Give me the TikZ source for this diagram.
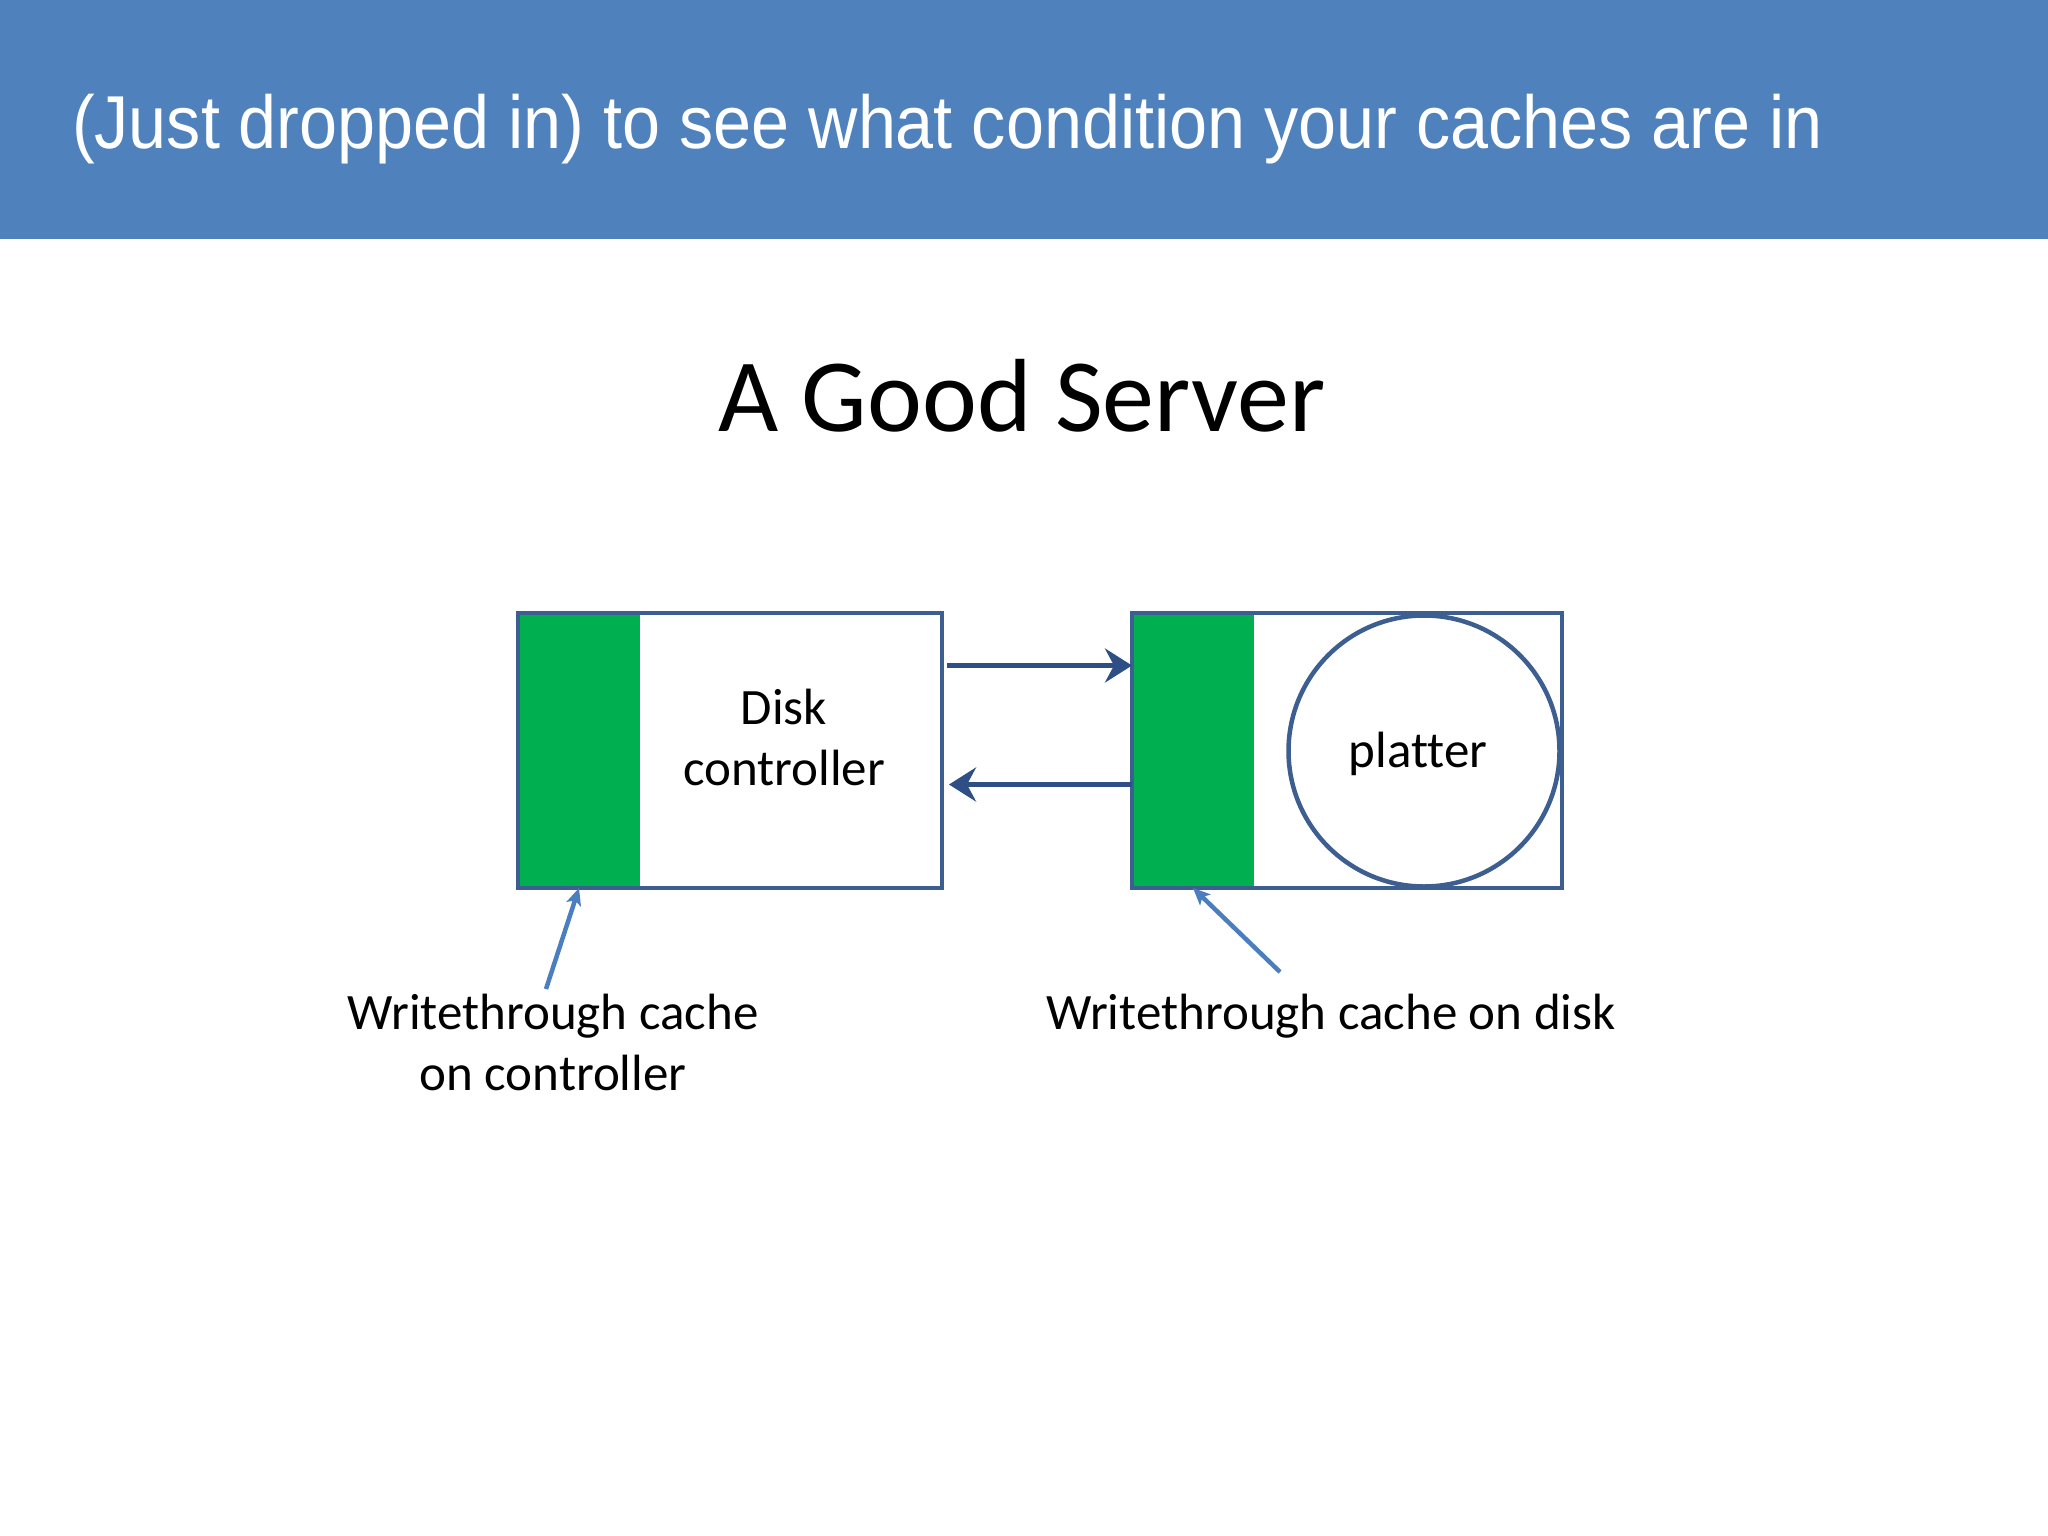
\documentclass[tikz,border=0pt]{standalone}
\usepackage{fontspec}
\usepackage{graphicx}
\usetikzlibrary{
  arrows.meta,
  calc,
  positioning
}
\newfontfamily\slidesans{Liberation Sans}
\newfontfamily\slidebody[Ligatures=NoCommon]{Carlito}
\definecolor{headerblue}{HTML}{4F81BD}
\definecolor{cachegreen}{HTML}{00B050}
\definecolor{boxedge}{HTML}{3C5E91}
\definecolor{linknavy}{HTML}{2E4E86}
\definecolor{pointblue}{HTML}{4A7EBF}

\begin{document}
\begin{tikzpicture}[
  x=1pt, y=-1pt,
  >=Stealth,
  every node/.style={inner sep=0pt, outer sep=0pt},
  devbox/.style={draw=boxedge, line width=4.5pt, minimum width=424pt, minimum height=275pt},
  cachebox/.style={fill=cachegreen, minimum width=122pt, minimum height=275pt},
  link/.style={->, linknavy, line width=4.5pt, >={Stealth[length=27pt, width=34pt, inset=9pt]}},
  pointer/.style={->, pointblue, line width=4.5pt, >={Stealth[length=17pt, width=15pt, inset=4pt]}},
  bodytext/.style={font=\slidebody\fontsize{51}{61}\selectfont, text=black, align=center},
]
\useasboundingbox (0,0) rectangle (2048,1536);
\fill[white] (0,0) rectangle (2048,1536);

% ═══════════════════════════════════════════
% HEADER BAND
% ═══════════════════════════════════════════
\fill[headerblue] (0,0) rectangle (2048,239);
\node[anchor=base west, text=white, font=\slidesans\fontsize{75}{90}\selectfont] (headline) at (72,149)
  {\scalebox{0.911}[1]{(Just dropped in) to see what condition your caches are in}};

% Slide heading
\node[anchor=base, font=\slidebody\fontsize{104}{125}\selectfont] (heading) at (1022,431) {A Good Server};

% ═══════════════════════════════════════════
% DISK CONTROLLER (left)
% ═══════════════════════════════════════════
\node[cachebox, anchor=north west] (ctrlcache) at (518,613) {};
\node[devbox, anchor=north west] (ctrl) at (518,613) {};
\node[bodytext, anchor=base] (ctrllabel) at (784,785) {Disk\\controller};

% ═══════════════════════════════════════════
% DISK (right)
% ═══════════════════════════════════════════
\node[cachebox, anchor=north west] (diskcache) at (1132,613) {};
\node[devbox, anchor=north west, minimum width=430pt] (disk) at (1132,613) {};
\node[circle, draw=boxedge, fill=white, line width=4.5pt, minimum size=271pt] (platter) at (1424,751) {};
\node[bodytext, anchor=base] (platterlabel) at (1418,767) {platter};

% Links between controller and disk
\draw[link] ([xshift=5pt, yshift=85pt]ctrl.east) -- ([yshift=85pt]disk.west);
\draw[link] ([yshift=-34pt]disk.west) -- ([xshift=7pt, yshift=-34pt]ctrl.east);

% ═══════════════════════════════════════════
% CACHE CALLOUTS
% ═══════════════════════════════════════════
\node[bodytext, anchor=base] (ctrlnote) at (553,1090) {Writethrough cache\\on controller};
\node[bodytext, anchor=base] (disknote) at (1331,1029) {Writethrough cache on disk};

\coordinate (ctrltail) at (546,989);
\coordinate (disktail) at (1280,972);
\draw[pointer] (ctrltail) -- (ctrlcache.south);
\draw[pointer] (disktail) -- (diskcache.south);

\end{tikzpicture}
\end{document}
